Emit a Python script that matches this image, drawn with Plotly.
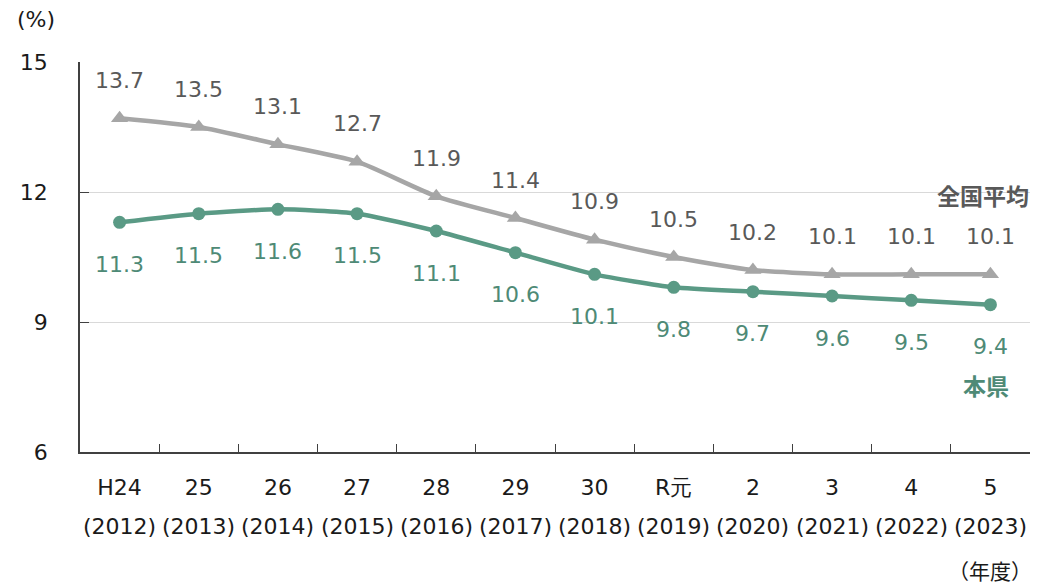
import plotly.graph_objects as go

categories = ["H24", "25", "26", "27", "28", "29", "30", "R元", "2", "3", "4", "5"]
years = ["(2012)", "(2013)", "(2014)", "(2015)", "(2016)", "(2017)", "(2018)",
         "(2019)", "(2020)", "(2021)", "(2022)", "(2023)"]
national = [13.7, 13.5, 13.1, 12.7, 11.9, 11.4, 10.9, 10.5, 10.2, 10.1, 10.1, 10.1]
prefecture = [11.3, 11.5, 11.6, 11.5, 11.1, 10.6, 10.1, 9.8, 9.7, 9.6, 9.5, 9.4]
y_ticks = [6, 9, 12, 15]

GRAY_LINE = "#a6a6a6"
GRAY_TEXT = "#595959"
GREEN_LINE = "#5a9a85"
GREEN_TEXT = "#4e8a76"
FONT = "DejaVu Sans"
CJK = "Noto Sans CJK JP"
FS = 22

fig = go.Figure()
fig.add_trace(go.Scatter(
    x=categories, y=national, mode="lines+markers",
    line=dict(color=GRAY_LINE, width=4.5, shape="spline", smoothing=0.6),
    marker=dict(symbol="triangle-up", size=15, color=GRAY_LINE),
    showlegend=False, cliponaxis=False))
fig.add_trace(go.Scatter(
    x=categories, y=prefecture, mode="lines+markers",
    line=dict(color=GREEN_LINE, width=4.5, shape="spline", smoothing=0.6),
    marker=dict(symbol="circle", size=13, color=GREEN_LINE),
    showlegend=False, cliponaxis=False))

annotations = []
for i, v in enumerate(national):
    annotations.append(dict(x=i, y=v, text=f"{v:.1f}", showarrow=False, yshift=38,
                            yanchor="middle",
                            font=dict(family=FONT, size=FS, color=GRAY_TEXT)))
for i, v in enumerate(prefecture):
    annotations.append(dict(x=i, y=v, text=f"{v:.1f}", showarrow=False, yshift=-42,
                            yanchor="middle",
                            font=dict(family=FONT, size=FS, color=GREEN_TEXT)))
for i, yr in enumerate(years):
    annotations.append(dict(x=i, y=-0.192, yref="paper", text=yr, showarrow=False,
                            yanchor="middle",
                            font=dict(family=FONT, size=FS, color="#1a1a1a")))
annotations += [
    dict(x=10.9, y=11.93, text="<b>全国平均</b>", showarrow=False, yanchor="middle",
         font=dict(family=CJK, size=23, color=GRAY_TEXT)),
    dict(x=10.95, y=7.55, text="<b>本県</b>", showarrow=False, yanchor="middle",
         font=dict(family=CJK, size=23, color=GREEN_TEXT)),
    dict(x=-0.046, y=1.108, xref="paper", yref="paper", text="(%)", showarrow=False,
         xanchor="center", yanchor="middle",
         font=dict(family=FONT, size=FS, color="#1a1a1a")),
    dict(x=0.958, y=-0.302, xref="paper", yref="paper", text="（年度）", showarrow=False,
         xanchor="center", yanchor="middle",
         font=dict(family=CJK, size=21, color="#1a1a1a")),
]

# The page body adds an 8px offset, so the figure is sized to fill the rest.
fig.update_layout(
    width=1032, height=578,
    margin=dict(l=72, r=10, t=54, b=134, autoexpand=False),
    paper_bgcolor="white", plot_bgcolor="white",
    annotations=annotations,
    font=dict(family=FONT, size=FS, color="#1a1a1a"),
)
fig.update_xaxes(
    type="category", range=[-0.5, 11.5], tickson="boundaries", ticks="inside", ticklen=8,
    tickcolor="#404040", showline=True, linecolor="#404040", linewidth=1.5,
    showgrid=False, ticklabelstandoff=15, tickangle=0, automargin=False,
    tickfont=dict(family=FONT, size=FS, color="#1a1a1a"),
)
fig.update_yaxes(
    range=[6, 15], tickvals=y_ticks, ticks="inside", ticklen=9,
    tickcolor="#404040", showline=True, linecolor="#404040", linewidth=1.5,
    showgrid=True, gridcolor="#d9d9d9", gridwidth=1, zeroline=False,
    ticklabelstandoff=26, automargin=False,
    tickfont=dict(family=FONT, size=FS, color="#1a1a1a"),
)

fig.write_html("out.html")
